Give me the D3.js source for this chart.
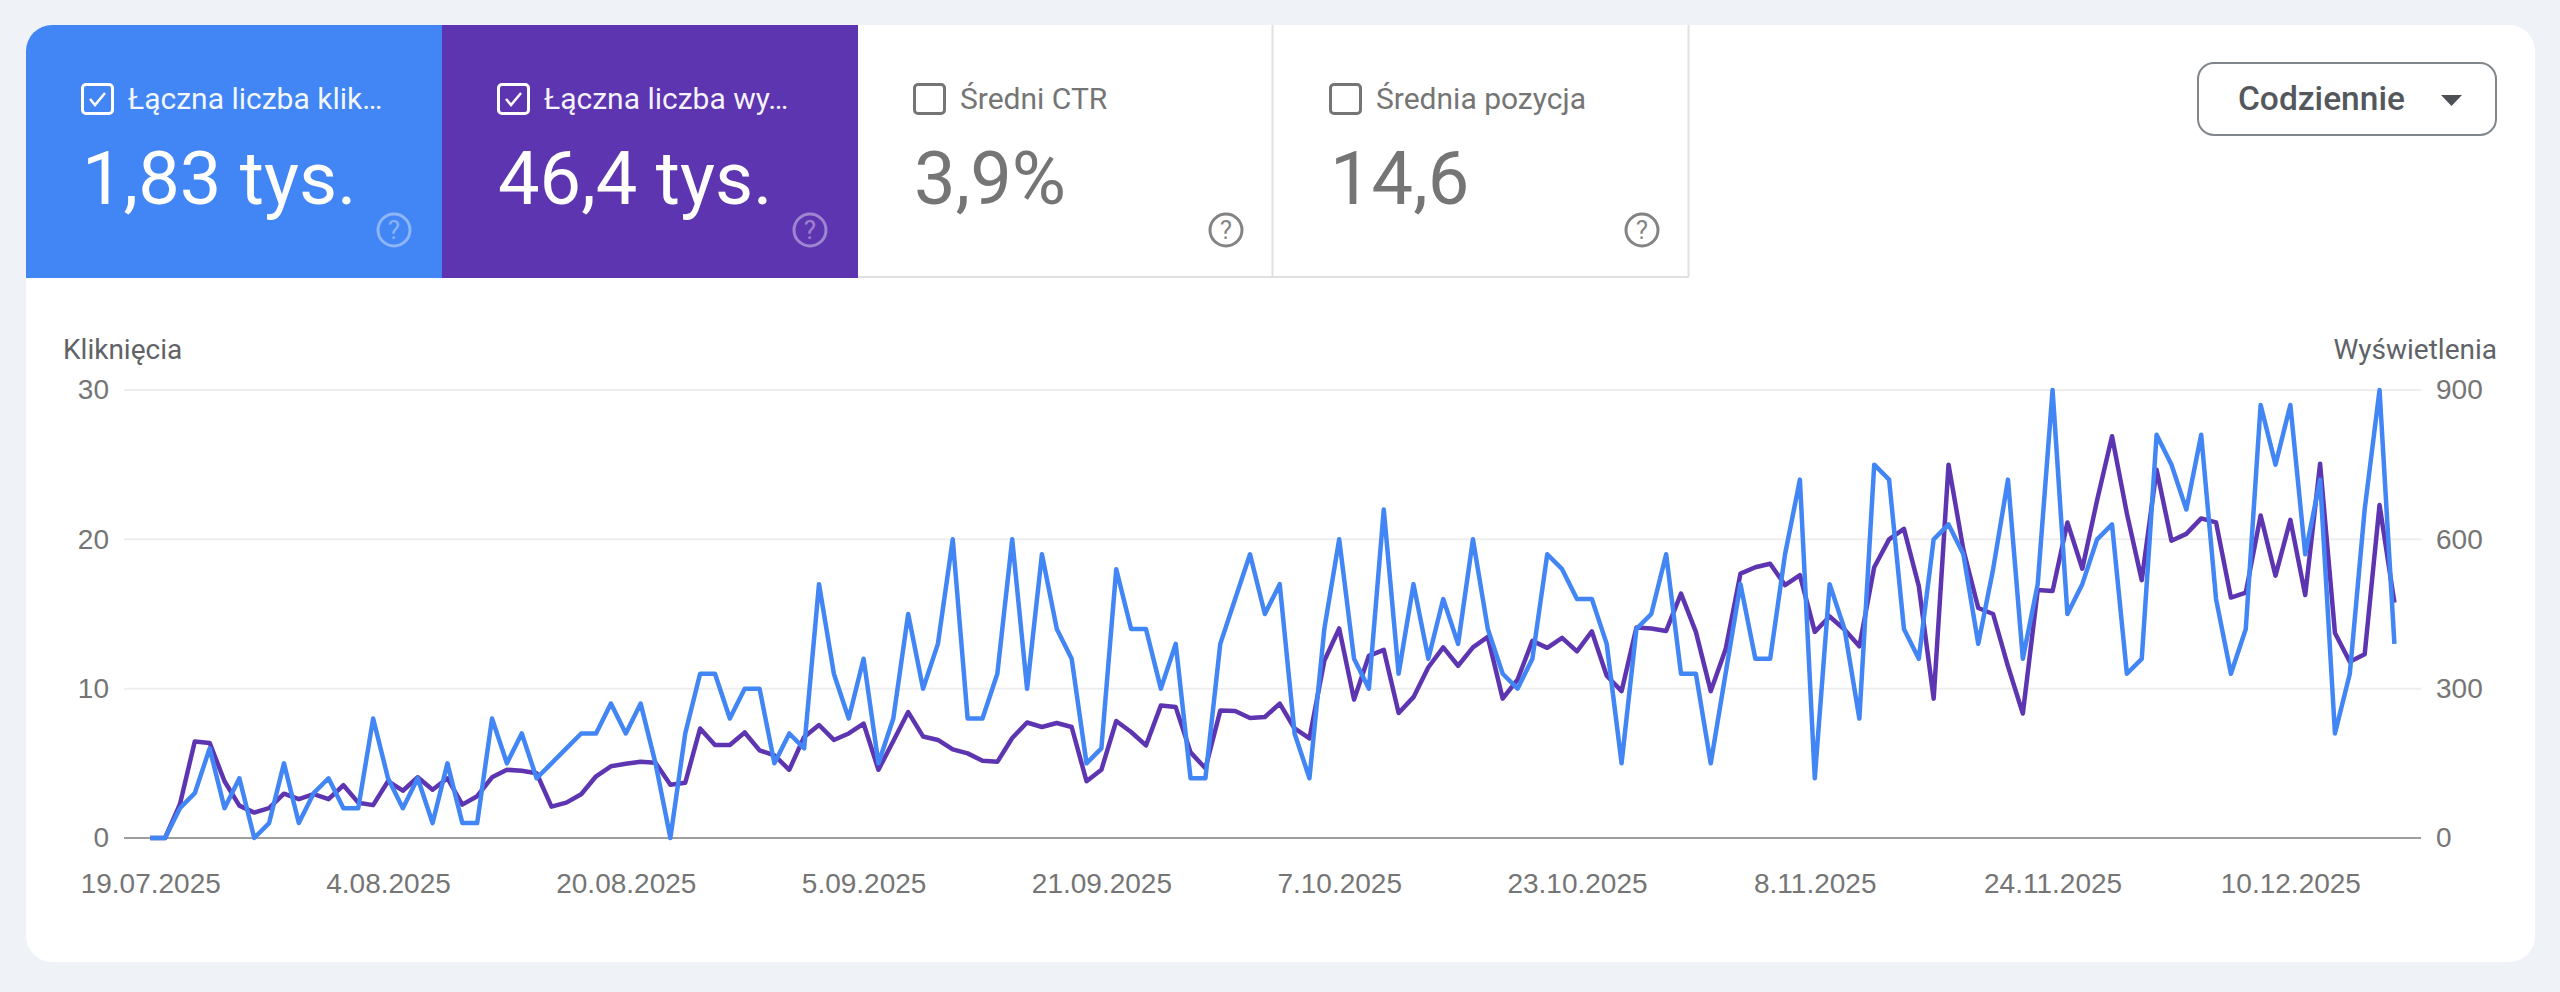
<!DOCTYPE html>
<html lang="pl">
<head>
<meta charset="utf-8">
<title>Skuteczność</title>
<script src="https://cdn.jsdelivr.net/npm/d3@7"></script>
<style>
  html, body { margin: 0; padding: 0; background: #eff3f8; }
  svg { display: block; font-family: Roboto, sans-serif; }
  .grid line { stroke: #eeeeee; stroke-width: 2; }
  .axis .domain { display: none; }
  .axis text { fill: #757575; font-size: 28px; }
  .axis-title { fill: #5f6368; font-size: 28px; }
</style>
</head>
<body>
<div id="chart"></div>
<script>
// Cards above the chart
const cardLabels = ['Łączna liczba klik…', 'Łączna liczba wy…', 'Średni CTR', 'Średnia pozycja'];
const cardValues = ['1,83 tys.', '46,4 tys.', '3,9%', '14,6'];
const cardColors = ['#4285f4', '#5e35b1', '#ffffff', '#ffffff'];
const cardChecked = [true, true, false, false];

// Chart values, one per day from 19.07.2025
const startDate = new Date(Date.UTC(2025, 6, 19));
const clicks = [
  0,0,2,3,6,2,4,0,1,5,1,3,4,2,2,8,4,2,4,1,5,1,1,8,5,7,4,5,6,7,7,9,7,9,
  5,0,7,11,11,8,10,10,5,7,6,17,11,8,12,5,8,15,10,13,20,8,8,11,20,10,19,14,12,5,6,18,14,14,10,13,4,4,13,16,19,
  15,17,7,4,14,20,12,10,22,11,17,12,16,13,20,14,11,10,12,19,18,16,16,13,5,14,15,19,11,11,5,11,17,12,12,19,24,4,17,14,8,
  25,24,14,12,20,21,19,13,18,24,12,17,30,15,17,20,21,11,12,27,25,22,27,16,11,14,29,25,29,19,24,7,11,22,30,13
];
const impressions = [
  0,0,68,194,191,114,65,51,60,89,78,88,78,106,71,66,114,95,122,97,120,67,84,122,137,135,130,63,71,88,124,144,149,153,
  151,107,111,220,187,187,212,176,166,137,203,227,197,210,230,137,195,253,204,197,178,170,155,153,201,232,223,231,223,114,137,235,213,186,266,263,172,140,256,255,241,
  243,270,220,200,356,421,278,366,378,251,283,343,383,346,383,404,280,318,396,382,402,375,415,326,295,423,421,416,491,414,295,379,531,544,551,508,528,414,445,419,385,
  544,600,621,506,280,750,579,462,450,345,250,498,496,634,541,679,807,652,518,740,597,611,642,634,483,493,648,527,639,488,752,412,354,369,669,473
];

const clickTicks = [0, 10, 20, 30];
const impressionTicks = [0, 300, 600, 900];
const dateTicks = ['2025-07-19', '2025-08-04', '2025-08-20', '2025-09-05', '2025-09-21',
  '2025-10-07', '2025-10-23', '2025-11-08', '2025-11-24', '2025-12-10'].map(d => new Date(d + 'T00:00:00Z'));

const width = 2560, height = 992;
const cardX = 26, cardY = 25, cardW = 416, cardH = 253;
const plot = { left: 124, right: 2421, top: 390, bottom: 838 };

const svg = d3.select('#chart').append('svg')
  .attr('width', width)
  .attr('height', height);

// White panel
svg.append('rect')
  .attr('x', 26).attr('y', 25)
  .attr('width', 2509).attr('height', 937)
  .attr('rx', 26)
  .attr('fill', '#ffffff');

// Cards
const clipId = 'card-clip';
svg.append('clipPath').attr('id', clipId)
  .append('path')
  .attr('d', `M${cardX},${cardY + cardH}V${cardY + 26}a26,26 0 0 1 26,-26H${cardX + cardW * 4}V${cardY + cardH}Z`);

const cards = svg.selectAll('.card')
  .data(cardLabels)
  .enter().append('g')
  .attr('class', 'card')
  .attr('clip-path', `url(#${clipId})`);

cards.append('rect')
  .attr('x', (d, i) => cardX + cardW * i)
  .attr('y', cardY)
  .attr('width', cardW)
  .attr('height', cardH)
  .attr('fill', (d, i) => cardColors[i]);

// Thin borders on the two unchecked cards
[[1272.5, 25, 1272.5, 277], [1688.5, 25, 1688.5, 277], [858, 277, 1689, 277]].forEach(l => {
  svg.append('line')
    .attr('x1', l[0]).attr('y1', l[1]).attr('x2', l[2]).attr('y2', l[3])
    .attr('stroke', '#e0e0e0').attr('stroke-width', 2);
});

cards.each(function(d, i) {
  const g = d3.select(this);
  const x = cardX + cardW * i;
  const on = cardChecked[i];
  const fg = on ? '#ffffff' : '#757575';

  g.append('rect')
    .attr('x', x + 56.5).attr('y', 84.5)
    .attr('width', 30).attr('height', 29)
    .attr('rx', 3.5)
    .attr('fill', 'none')
    .attr('stroke', fg)
    .attr('stroke-width', 3);

  if (on) {
    g.append('path')
      .attr('d', `M${x + 64},${99}l5,6l10,-12`)
      .attr('fill', 'none')
      .attr('stroke', fg)
      .attr('stroke-width', 2.5);
  }

  g.append('text')
    .attr('x', x + 102).attr('y', 109)
    .attr('font-size', 30)
    .attr('fill', fg)
    .attr('fill-opacity', on ? 0.95 : 1)
    .text(d);

  g.append('text')
    .attr('x', x + 56).attr('y', 204)
    .attr('font-size', 74)
    .attr('fill', fg)
    .text(cardValues[i]);

  // Help icon
  const hx = x + 368, hy = 230;
  g.append('circle')
    .attr('cx', hx).attr('cy', hy).attr('r', 16)
    .attr('fill', 'none')
    .attr('stroke', fg)
    .attr('stroke-opacity', on ? 0.4 : 0.9)
    .attr('stroke-width', 3);
  g.append('text')
    .attr('x', hx).attr('y', hy + 9)
    .attr('text-anchor', 'middle')
    .attr('font-size', 26)
    .attr('fill', fg)
    .attr('fill-opacity', on ? 0.4 : 0.9)
    .text('?');
});

// Dropdown
svg.append('rect')
  .attr('x', 2198).attr('y', 63)
  .attr('width', 298).attr('height', 72)
  .attr('rx', 16)
  .attr('fill', '#ffffff')
  .attr('stroke', '#80868b')
  .attr('stroke-width', 2);
svg.append('text')
  .attr('x', 2238).attr('y', 110)
  .attr('font-size', 33.5)
  .attr('font-weight', 500)
  .attr('fill', '#54575c')
  .text('Codziennie');
svg.append('path')
  .attr('d', d3.line()([[2441, 95], [2462, 95], [2451.5, 106]]) + 'Z')
  .attr('fill', '#4d5156');

// Scales
const xScale = d3.scaleUtc()
  .domain([startDate, d3.utcDay.offset(startDate, clicks.length - 1)])
  .range([150.2, 2394.4]);
const yClicks = d3.scaleLinear().domain([0, 30]).range([plot.bottom, plot.top]);
const yImpressions = d3.scaleLinear().domain([0, 900]).range([plot.bottom, plot.top]);

// Gridlines
svg.append('g')
  .attr('class', 'grid')
  .selectAll('line')
  .data(clickTicks.slice(1))
  .enter().append('line')
  .attr('x1', plot.left).attr('x2', plot.right)
  .attr('y1', d => yClicks(d)).attr('y2', d => yClicks(d));

svg.append('line')
  .attr('x1', plot.left).attr('x2', plot.right)
  .attr('y1', yClicks(0)).attr('y2', yClicks(0))
  .attr('stroke', '#9e9e9e')
  .attr('stroke-width', 2);

// Axes
const leftAxis = d3.axisLeft(yClicks).tickValues(clickTicks).tickSize(0).tickPadding(0);
svg.append('g')
  .attr('class', 'axis')
  .attr('transform', 'translate(109,0)')
  .call(leftAxis);

const rightAxis = d3.axisRight(yImpressions).tickValues(impressionTicks).tickSize(0).tickPadding(0);
svg.append('g')
  .attr('class', 'axis')
  .attr('transform', 'translate(2436,0)')
  .call(rightAxis);

const bottomAxis = d3.axisBottom(xScale)
  .tickValues(dateTicks)
  .tickFormat(d3.utcFormat('%-d.%m.%Y'))
  .tickSize(0)
  .tickPadding(0);
svg.append('g')
  .attr('class', 'axis')
  .attr('transform', 'translate(0,873)')
  .call(bottomAxis);

svg.append('text')
  .attr('class', 'axis-title')
  .attr('x', 63).attr('y', 359)
  .text('Kliknięcia');
svg.append('text')
  .attr('class', 'axis-title')
  .attr('x', 2497).attr('y', 359)
  .attr('text-anchor', 'end')
  .text('Wyświetlenia');

// Lines
const dayOf = i => d3.utcDay.offset(startDate, i);
const clickLine = d3.line().x((d, i) => xScale(dayOf(i))).y(d => yClicks(d));
const impressionLine = d3.line().x((d, i) => xScale(dayOf(i))).y(d => yImpressions(d));

svg.append('path')
  .attr('d', impressionLine(impressions))
  .attr('fill', 'none')
  .attr('stroke', '#5e35b1')
  .attr('stroke-width', 4.5)
  .attr('stroke-linejoin', 'round');

svg.append('path')
  .attr('d', clickLine(clicks))
  .attr('fill', 'none')
  .attr('stroke', '#4285f4')
  .attr('stroke-width', 4.5)
  .attr('stroke-linejoin', 'round');
</script>
</body>
</html>
